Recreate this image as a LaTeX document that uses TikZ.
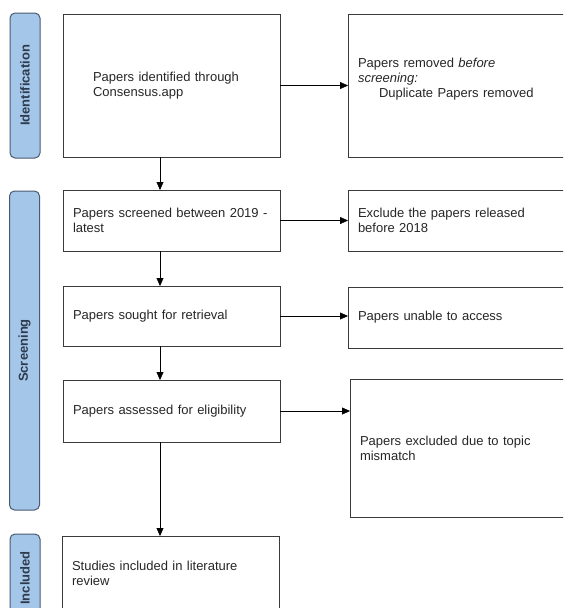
\documentclass[tikz,border=0pt]{standalone}
\usepackage{fontspec}
\setmainfont{Liberation Sans}
\usetikzlibrary{arrows.meta}

\definecolor{phasefill}{HTML}{A4C6E8}
\definecolor{phaseline}{HTML}{4A5A70}
\definecolor{phasetext}{HTML}{2E3B4E}
\definecolor{boxline}{HTML}{3A3A3A}

\tikzset{
  box/.style={draw=boxline, line width=1pt, rectangle, align=left,
    inner xsep=10pt, inner ysep=0pt, outer sep=0pt, text=black!85,
    minimum width=217pt, text width=197pt,
    font=\fontsize{13}{15}\selectfont},
  phase/.style={draw=phaseline, fill=phasefill, line width=1pt,
    rounded corners=5pt, rotate=90, minimum height=30pt, inner sep=0pt,
    text=phasetext, font=\bfseries\fontsize{13}{15}\selectfont}
}

\begin{document}
\begin{tikzpicture}[x=1pt, y=-1pt, >={Triangle[length=8pt,width=7pt]}]
\useasboundingbox (0,0) rectangle (563,608);
\clip (0,0) rectangle (563,608);

% phase tabs
\node[phase, minimum width=145pt] (ident) at (25,85.5) {Identification};
\node[phase, minimum width=319pt] (screen) at (24.5,350.5) {Screening};
\node[phase, minimum width=88pt] (incl) at (25,578) {Included};

% left column
\node[box, minimum height=143pt, inner xsep=30pt, text width=157pt] (found) at (171.5,85.5)
  {Papers identified through\\Consensus.app};
\node[box, minimum height=61pt] (screened) at (171.5,220.5)
  {Papers screened between 2019 -\\latest};
\node[box, minimum height=60pt] (sought) at (171.5,316)
  {Papers sought for retrieval};
\node[box, minimum height=62pt] (assessed) at (171.5,411)
  {Papers assessed for eligibility};
\node[box, minimum height=74pt] (included) at (170.5,573)
  {Studies included in literature\\review};

% right column
\node[box, minimum height=143pt] (removed) at (456.5,85.5)
  {Papers removed \textit{before}\\\textit{screening:}\\\hspace*{21pt}Duplicate Papers removed\\\mbox{}};
\node[box, minimum height=61pt] (early) at (456.5,220.5)
  {Exclude the papers released\\before 2018};
\node[box, minimum height=61pt] (noaccess) at (456.5,317.5)
  {Papers unable to access};
\node[box, minimum height=138pt, minimum width=215pt, text width=195pt] (mismatch) at (457.5,448)
  {Papers excluded due to topic\\mismatch};

\coordinate (spine) at (160,0);

\draw[->] (found) -- (removed);
\draw[->] (screened) -- (early);
\draw[->] (sought.east) -- (sought.east -| noaccess.west);
\draw[->] (assessed.east) -- (assessed.east -| mismatch.west);

\draw[->] (found.south -| spine) -- (screened.north -| spine);
\draw[->] (screened.south -| spine) -- (sought.north -| spine);
\draw[->] (sought.south -| spine) -- (assessed.north -| spine);
\draw[->] (assessed.south -| spine) -- (included.north -| spine);
\end{tikzpicture}
\end{document}
